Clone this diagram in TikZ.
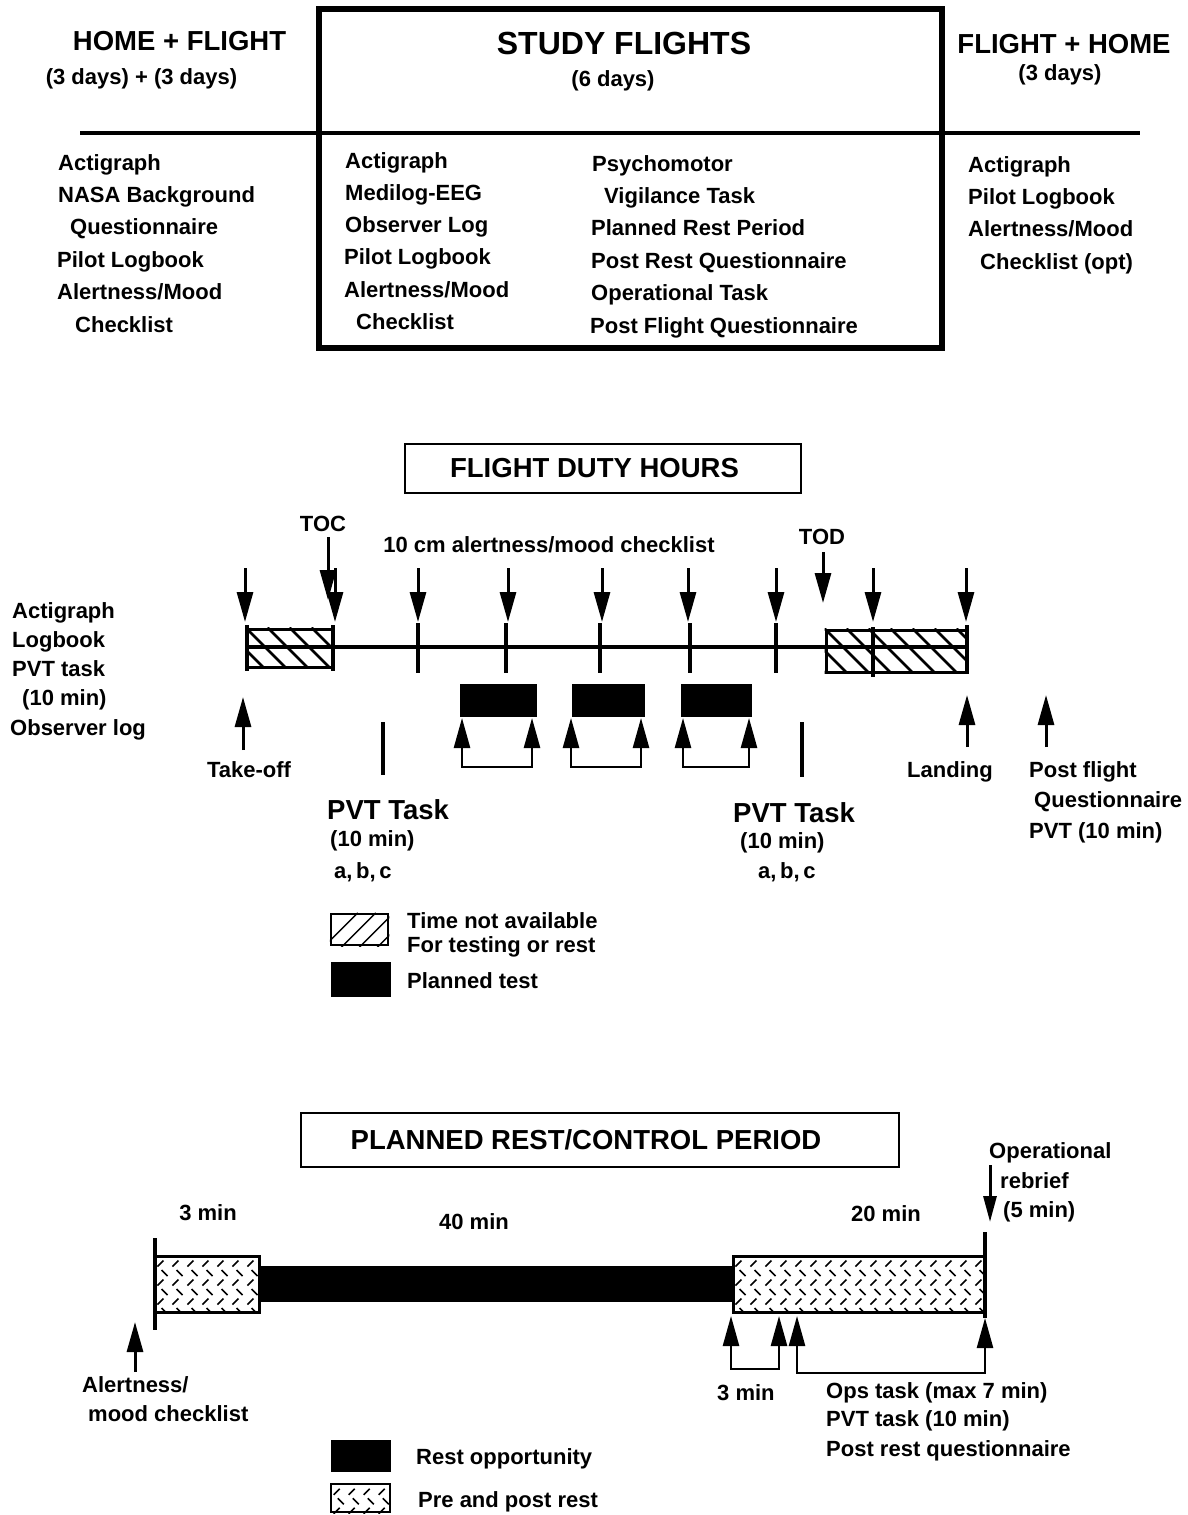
\documentclass[tikz,border=0pt]{standalone}
\usepackage{fontspec}
\setmainfont{Liberation Sans}
\usetikzlibrary{arrows.meta}
\newcommand{\fillhatchA}[1]{%
  \begin{scope}
    \clip (#1.north west) rectangle (#1.south east);
    \begin{scope}[shift={(#1.north west)}]
      \foreach \k in {-3,...,8} \draw[line width=2.6pt] (\k*22,0) -- (\k*22+50,50);
    \end{scope}
  \end{scope}}
\newcommand{\fillhatchB}[1]{%
  \begin{scope}
    \clip (#1.north west) rectangle (#1.south east);
    \begin{scope}[shift={(#1.north west)}]
      \foreach \k in {0,...,4} \draw[line width=1.4pt] (\k*18-8,36) -- (\k*18+28,0);
    \end{scope}
  \end{scope}}
\newcommand{\fillherring}[1]{%
  \begin{scope}
    \clip (#1.north west) rectangle (#1.south east);
    \begin{scope}[shift={(#1.north west)}, line width=1.5pt]
      \foreach \r in {0,...,6}{
        \foreach \c in {0,...,17}{
          \pgfmathsetmacro\cx{7+\c*15+mod(\r,2)*4}
          \pgfmathsetmacro\cy{9+\r*9.5}
          \pgfmathsetmacro\sg{1-2*mod(\r,2)}
          \draw (\cx-3,\cy+3*\sg) -- (\cx+3,\cy-3*\sg);
        }
      }
    \end{scope}
  \end{scope}}
\begin{document}
\begin{tikzpicture}[x=1pt,y=-1pt,
  t/.style={font=\fontsize{22}{26}\selectfont\bfseries, inner sep=0pt, anchor=base west},
  tc/.style={t, anchor=base},
  bigf/.style={font=\fontsize{27.5}{32}\selectfont\bfseries},
  big/.style={bigf, inner sep=0pt, anchor=base},
  huge/.style={font=\fontsize{32}{36}\selectfont\bfseries, inner sep=0pt, anchor=base},
  arr/.style={line width=3pt, -{Triangle[length=30pt,width=16pt]}},
  loopa/.style={line width=2.5pt, {Triangle[length=30pt,width=16pt]}-{Triangle[length=30pt,width=16pt]}},
  tick/.style={line width=4.5pt},
  blk/.style={fill=black, draw=none, inner sep=0pt},
  boxn/.style={draw, inner sep=0pt}
]
\fill[white] (0,0) rectangle (1188,1515);
\useasboundingbox (0,0) rectangle (1188,1515);

% ================= TOP SECTION =================
\node[boxn, line width=6pt, minimum width=623pt, minimum height=339pt] (study) at (630.5,178.5) {};
\coordinate (hl) at (80,133);
\coordinate (hr) at (1140,133);
\draw[line width=4.5pt] (hl) -- (hr);

\node[big] (hf) at (179.5,50) {HOME + FLIGHT};
\node[tc] (hfd) at (141.5,84) {(3 days) + (3 days)};
\node[huge] (sf) at (624,54.5) {STUDY FLIGHTS};
\node[tc] (sfd) at (613,86) {(6 days)};
\node[big] (fh) at (1064,53) {FLIGHT + HOME};
\node[tc] (fhd) at (1060,80) {(3 days)};

\node[t] (a1) at (58,170) {Actigraph};
\node[t] (a2) at (58,202) {NASA Background};
\node[t] (a3) at (70,234) {Questionnaire};
\node[t] (a4) at (57,267) {Pilot Logbook};
\node[t] (a5) at (57,299) {Alertness/Mood};
\node[t] (a6) at (75,332) {Checklist};

\node[t] (b1) at (345,168) {Actigraph};
\node[t] (b2) at (345,200) {Medilog-EEG};
\node[t] (b3) at (345,232) {Observer Log};
\node[t] (b4) at (344,264) {Pilot Logbook};
\node[t] (b5) at (344,297) {Alertness/Mood};
\node[t] (b6) at (356,329) {Checklist};

\node[t] (c1) at (592,171) {Psychomotor};
\node[t] (c2) at (604,203) {Vigilance Task};
\node[t] (c3) at (591,235) {Planned Rest Period};
\node[t] (c4) at (591,268) {Post Rest Questionnaire};
\node[t] (c5) at (591,300) {Operational Task};
\node[t] (c6) at (590,333) {Post Flight Questionnaire};

\node[t] (d1) at (968,172) {Actigraph};
\node[t] (d2) at (968,204) {Pilot Logbook};
\node[t] (d3) at (968,236) {Alertness/Mood};
\node[t] (d4) at (980,269) {Checklist (opt)};

% ================= FLIGHT DUTY HOURS =================
\node[boxn, bigf, line width=2pt, minimum width=396pt, minimum height=49pt] (fdh) at (603,468.5) {FLIGHT DUTY HOURS\hspace*{17pt}};

% hatched boxes
\node[boxn, line width=3pt, minimum width=86pt, minimum height=38pt] (hbL) at (290,648) {};
\fillhatchA{hbL}
\node[boxn, line width=3pt, minimum width=141pt, minimum height=42pt] (hbR) at (896.5,651) {};
\fillhatchA{hbR}

% timeline
\coordinate (tl0) at (247,647);
\coordinate (tl1) at (967,647);
\draw[line width=4pt] (tl0) -- (tl1);

\foreach \i/\x/\ya/\yb in {0/247/625/671, 1/333/625/671, 2/418/623/673, 3/506/623/673, 4/600/623/673, 5/690/623/673, 6/776/623/673, 7/873/627/677, 8/967/625/673}{
  \coordinate (tk\i a) at (\x,\ya);
  \coordinate (tk\i b) at (\x,\yb);
  \draw[tick] (tk\i a) -- (tk\i b);
}

% down arrows
\foreach \i/\x in {1/245, 2/335, 3/418, 4/508, 5/602, 6/688, 7/776, 8/873, 9/966}{
  \coordinate (da\i) at (\x,568);
  \coordinate (db\i) at (\x,622);
  \draw[arr] (da\i) -- (db\i);
}

\node[tc] (toc) at (323,531) {TOC};
\coordinate (toca) at (328,537);
\coordinate (tocb) at (328,600);
\draw[arr] (toca) -- (tocb);

\node[tc] (tod) at (822,544) {TOD};
\coordinate (toda) at (823,552);
\coordinate (todb) at (823,603);
\draw[arr] (toda) -- (todb);

\node[tc] (cm10) at (549,552) {10 cm alertness/mood checklist};

% planned test blocks
\node[blk, minimum width=77pt, minimum height=33pt] (pb1) at (498.5,700.5) {};
\node[blk, minimum width=73pt, minimum height=33pt] (pb2) at (608.5,700.5) {};
\node[blk, minimum width=71pt, minimum height=33pt] (pb3) at (716.5,700.5) {};

\foreach \i/\xa/\xb in {1/462/532, 2/571/641, 3/683/749}{
  \coordinate (lp\i a) at (\xa,718);
  \coordinate (lp\i b) at (\xb,718);
  \draw[loopa] (lp\i a) -- ++(0,49) -| (lp\i b);
}

% PVT bars
\coordinate (pv1a) at (383,722); \coordinate (pv1b) at (383,775);
\coordinate (pv2a) at (802,722); \coordinate (pv2b) at (802,777);
\draw[line width=4pt] (pv1a) -- (pv1b);
\draw[line width=4pt] (pv2a) -- (pv2b);

% up arrows
\coordinate (toa) at (243,750); \coordinate (tob) at (243,697);
\draw[arr] (toa) -- (tob);
\coordinate (lda) at (967,747); \coordinate (ldb) at (967,695);
\draw[arr] (lda) -- (ldb);
\coordinate (pfa) at (1046,747); \coordinate (pfb) at (1046,695);
\draw[arr] (pfa) -- (pfb);

% labels
\node[t] (m1) at (12,618) {Actigraph};
\node[t] (m2) at (12,647) {Logbook};
\node[t] (m3) at (12,676) {PVT task};
\node[t] (m4) at (22,705) {(10 min)};
\node[t] (m5) at (10,735) {Observer log};

\node[tc] (takeoff) at (249,777) {Take-off};
\node[tc] (landing) at (950,777) {Landing};
\node[t] (pf1) at (1029,777) {Post flight};
\node[t] (pf2) at (1034,807) {Questionnaire};
\node[t] (pf3) at (1029,838) {PVT (10 min)};

\node[bigf, inner sep=0pt, anchor=base west] (pvtL1) at (327,819) {PVT Task};
\node[t] (pvtL2) at (330,846) {(10 min)};
\node[t] (pvtL3) at (334,878) {a,\,b,\,c};
\node[bigf, inner sep=0pt, anchor=base west] (pvtR1) at (733,822) {PVT Task};
\node[t] (pvtR2) at (740,848) {(10 min)};
\node[t] (pvtR3) at (758,878) {a,\,b,\,c};

% legend 1
\node[boxn, line width=2.5pt, minimum width=57pt, minimum height=31pt] (lg1) at (359.5,929.5) {};
\fillhatchB{lg1}
\node[t] (lg1t1) at (407,928) {Time not available};
\node[t] (lg1t2) at (407,952) {For testing or rest};
\node[blk, minimum width=60pt, minimum height=35pt] (lg2) at (361,979.5) {};
\node[t] (lg2t) at (407,988) {Planned test};

% ================= PLANNED REST =================
\node[boxn, bigf, line width=2pt, minimum width=598pt, minimum height=54pt] (prc) at (600,1140) {PLANNED REST/CONTROL PERIOD\hspace*{28pt}};

\node[blk, minimum width=474pt, minimum height=36pt] (rest) at (496,1284) {};
\node[boxn, line width=3pt, minimum width=104pt, minimum height=56pt] (pre) at (207,1284) {};
\fillherring{pre}
\node[boxn, line width=3pt, minimum width=252pt, minimum height=56pt] (post) at (859,1284) {};
\fillherring{post}

\coordinate (lva) at (155,1238); \coordinate (lvb) at (155,1330);
\draw[line width=4pt] (lva) -- (lvb);
\coordinate (rva) at (985,1232); \coordinate (rvb) at (985,1318);
\draw[line width=4pt] (rva) -- (rvb);

\node[tc] (m3min) at (208,1220) {3 min};
\node[tc] (m40) at (474,1229) {40 min};
\node[tc] (m20) at (886,1221) {20 min};
\node[t] (op1) at (989,1158) {Operational};
\node[t] (op2) at (1000,1188) {rebrief};
\node[t] (op3) at (1003,1217) {(5 min)};
\coordinate (rba) at (990,1165); \coordinate (rbb) at (990,1222);
\draw[line width=3pt, -{Triangle[length=26pt,width=13pt]}] (rba) -- (rbb);

\coordinate (ama) at (135,1372); \coordinate (amb) at (135,1322);
\draw[arr] (ama) -- (amb);
\node[t] (am1) at (82,1392) {Alertness/};
\node[t] (am2) at (88,1421) {mood checklist};

\coordinate (ua1) at (731,1316); \coordinate (ua2) at (779,1316);
\coordinate (ua3) at (797,1316); \coordinate (ua4) at (985,1318);
\draw[loopa] (ua1) -- ++(0,53) -| (ua2);
\draw[loopa] (ua3) -- ++(0,57) -| (ua4);

\node[t] (b3min) at (717,1400) {3 min};
\node[t] (ops1) at (826,1398) {Ops task (max 7 min)};
\node[t] (ops2) at (826,1426) {PVT task (10 min)};
\node[t] (ops3) at (826,1456) {Post rest questionnaire};

% legend 2
\node[blk, minimum width=60pt, minimum height=32pt] (lg3) at (361,1456) {};
\node[t] (lg3t) at (416,1464) {Rest opportunity};
\node[boxn, line width=2.5pt, minimum width=59pt, minimum height=28pt] (lg4) at (360.5,1498) {};
\fillherring{lg4}
\node[t] (lg4t) at (418,1507) {Pre and post rest};
\end{tikzpicture}
\end{document}
